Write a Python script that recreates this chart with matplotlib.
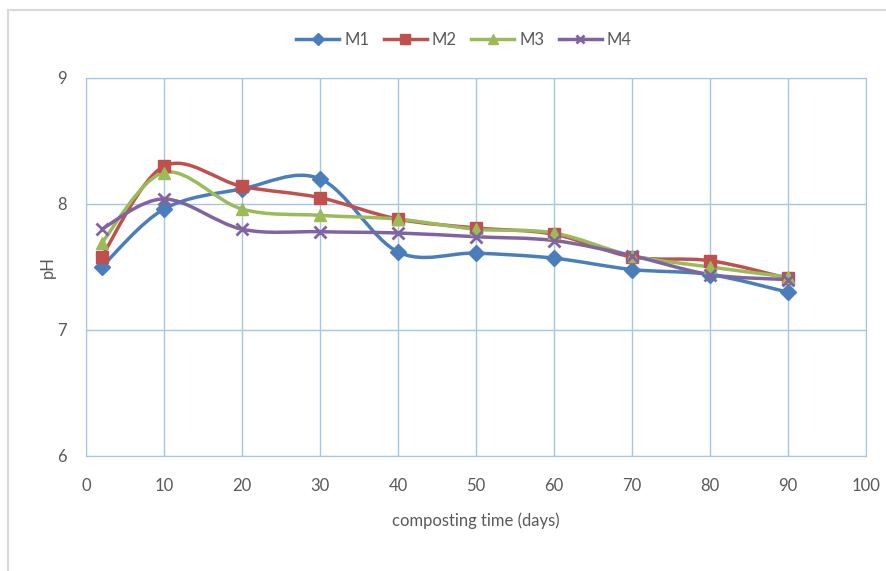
import matplotlib.pyplot as plt
from matplotlib.path import Path
from matplotlib.patches import PathPatch, Rectangle
from matplotlib.lines import Line2D

days = [2, 10, 20, 30, 40, 50, 60, 70, 80, 90]
m1 = [7.50, 7.96, 8.12, 8.20, 7.62, 7.61, 7.57, 7.48, 7.44, 7.30]
m2 = [7.58, 8.30, 8.14, 8.05, 7.88, 7.81, 7.76, 7.58, 7.55, 7.41]
m3 = [7.69, 8.25, 7.96, 7.91, 7.88, 7.80, 7.77, 7.59, 7.50, 7.42]
m4 = [7.80, 8.04, 7.80, 7.78, 7.77, 7.74, 7.71, 7.59, 7.44, 7.40]

series = [
    ("M1", m1, "#4A7EBB", "D", 8),
    ("M2", m2, "#C0504D", "s", 9),
    ("M3", m3, "#9BBB59", "^", 9),
    ("M4", m4, "#8064A2", "x", 8),
]

plt.rcParams['font.family'] = ['Lato', 'DejaVu Sans']
text_col = "#595959"
grid_col = "#A6C3E8"


def smooth_path(xs, ys):
    # Excel-style smoothed line: bezier segments through the data points
    pts = list(zip(xs, ys))
    n = len(pts)
    verts = [pts[0]]
    codes = [Path.MOVETO]
    for i in range(n - 1):
        p0 = pts[i - 1] if i > 0 else pts[i]
        p1 = pts[i]
        p2 = pts[i + 1]
        p3 = pts[i + 2] if i + 2 < n else pts[i + 1]
        c1 = (p1[0] + (p2[0] - p0[0]) / 6, p1[1] + (p2[1] - p0[1]) / 6)
        c2 = (p2[0] - (p3[0] - p1[0]) / 6, p2[1] - (p3[1] - p1[1]) / 6)
        verts += [c1, c2, p2]
        codes += [Path.CURVE4] * 3
    return Path(verts, codes)


fig = plt.figure(figsize=(8.86, 5.71), dpi=100)
ax = fig.add_axes([86 / 886, 1 - 456 / 571, (866 - 86) / 886, (456 - 78) / 571])

fig.patches.append(Rectangle((8 / 886, -0.1), 1.2, 1 - 10 / 571 + 0.1,
                             transform=fig.transFigure, fill=False,
                             edgecolor="#D9D9D9", linewidth=1.5))

handles = []
for name, vals, col, mk, ms in series:
    ax.add_patch(PathPatch(smooth_path(days, vals), facecolor="none",
                           edgecolor=col, linewidth=2.5, zorder=3))
    ax.plot(days, vals, linestyle="none", marker=mk, markersize=ms,
            color=col, markeredgecolor=col, markeredgewidth=2 if mk == "x" else 1,
            zorder=4)
    handles.append(Line2D([], [], color=col, linewidth=2.5, marker=mk,
                          markersize=ms - 2, markeredgewidth=2 if mk == "x" else 1,
                          label=name))

ax.set_xlim(0, 100)
ax.set_ylim(6, 9)
ax.set_xticks(range(0, 101, 10))
ax.set_yticks([6, 7, 8, 9])
ax.grid(True, color=grid_col, linewidth=1)
ax.set_axisbelow(True)
for s in ax.spines.values():
    s.set_color(grid_col)
ax.tick_params(length=0, labelsize=12, labelcolor=text_col)
ax.tick_params(axis="x", pad=16)
ax.tick_params(axis="y", pad=14)

ax.set_xlabel("composting time (days)", fontsize=12, color=text_col, labelpad=13)
ax.set_ylabel("pH", fontsize=12, color=text_col, labelpad=1)

fig.legend(handles=handles, loc="center", bbox_to_anchor=(464 / 886, 1 - 40 / 571),
           ncol=4, frameon=False, fontsize=12, labelcolor=text_col,
           handlelength=2.6, columnspacing=0.85, handletextpad=0.3)

fig.savefig("out.png", dpi=100)
